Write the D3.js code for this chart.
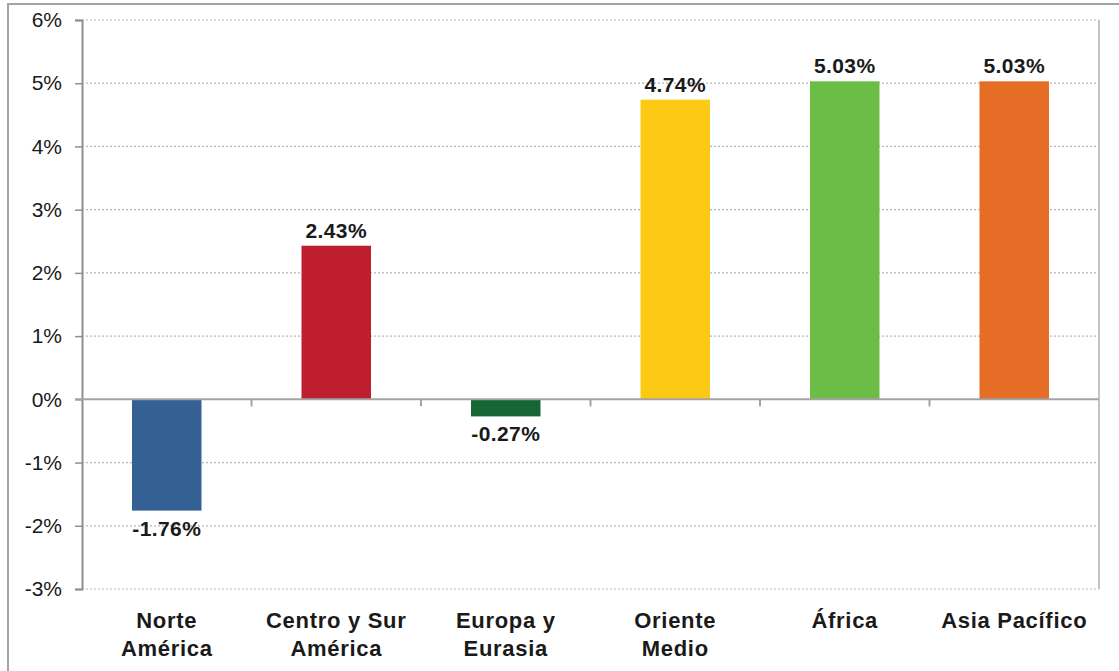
<!DOCTYPE html>
<html>
<head>
<meta charset="utf-8">
<script src="https://cdn.jsdelivr.net/npm/d3@7"></script>
<style>
    body { margin: 0; background: #ffffff; }
    svg { display: block; font-family: "Liberation Sans", Arial, sans-serif; }
</style>
</head>
<body>
<div id="chart"></div>
<script>
// Data
const regions = [["Norte", "América"], ["Centro  y Sur", "América"], ["Europa y", "Eurasia"], ["Oriente", "Medio"], ["África"], ["Asia Pacífico"]];
const growth = [-1.76, 2.43, -0.27, 4.74, 5.03, 5.03];
const barColors = ["#346093", "#be1e2d", "#166534", "#fcc915", "#6bbd45", "#e56d25"];
const yTicks = [-3, -2, -1, 0, 1, 2, 3, 4, 5, 6];

const width = 1119, height = 671;
const plot = {left: 82, right: 1099, top: 20, bottom: 589};

const svg = d3.select("#chart").append("svg")
    .attr("width", width)
    .attr("height", height);

// Outer frame (top + left edges only are visible)
svg.append("path")
    .attr("d", `M8,${height} L8,4 L${width},4`)
    .attr("fill", "none")
    .attr("stroke", "#a3a3a3")
    .attr("stroke-width", 2);

// Scales
const x = d3.scaleBand()
    .domain(d3.range(regions.length))
    .range([plot.left, plot.right])
    .paddingInner(0.59)
    .paddingOuter(0.295);

const y = d3.scaleLinear()
    .domain([-3, 6])
    .range([plot.bottom, plot.top]);

// Gridlines (dotted)
svg.append("g")
    .selectAll("line")
    .data(yTicks.filter(d => d !== 0))
    .enter().append("line")
    .attr("x1", plot.left)
    .attr("x2", plot.right)
    .attr("y1", d => y(d))
    .attr("y2", d => y(d))
    .attr("stroke", "#b5b5b5")
    .attr("stroke-width", 1.2)
    .attr("stroke-dasharray", "2,2");

// Right border
svg.append("line")
    .attr("x1", plot.right).attr("x2", plot.right)
    .attr("y1", plot.top).attr("y2", plot.bottom)
    .attr("stroke", "#c4c4c4")
    .attr("stroke-width", 2);

// Y axis
const yAxis = d3.axisLeft(y)
    .tickValues(yTicks)
    .tickSize(7)
    .tickPadding(13)
    .tickFormat(d => d + "%");

const yAxisGroup = svg.append("g")
    .attr("transform", `translate(${plot.left},0)`)
    .call(yAxis);

yAxisGroup.select(".domain")
    .attr("stroke", "#8f8f8f")
    .attr("stroke-width", 2);
yAxisGroup.selectAll(".tick line")
    .attr("stroke", "#8f8f8f")
    .attr("stroke-width", 1.5);
yAxisGroup.selectAll(".tick text")
    .style("font-family", "'Liberation Sans', Arial, sans-serif")
    .style("font-size", "21px")
    .style("fill", "#1a1a1a");

// Bars
svg.selectAll(".bar")
    .data(growth)
    .enter().append("rect")
    .attr("class", "bar")
    .attr("x", (d, i) => x(i))
    .attr("y", d => y(Math.max(0, d)))
    .attr("width", x.bandwidth())
    .attr("height", d => Math.abs(y(d) - y(0)))
    .attr("fill", (d, i) => barColors[i]);

// Zero line with category separator ticks
svg.append("line")
    .attr("x1", plot.left - 7).attr("x2", plot.right)
    .attr("y1", y(0)).attr("y2", y(0))
    .attr("stroke", "#a3a3a3")
    .attr("stroke-width", 2);

const gap = x.step() * x.paddingInner() / 2;
svg.append("g")
    .selectAll("line")
    .data(d3.range(1, regions.length))
    .enter().append("line")
    .attr("x1", i => x(i) - gap)
    .attr("x2", i => x(i) - gap)
    .attr("y1", y(0))
    .attr("y2", y(0) + 7)
    .attr("stroke", "#a3a3a3")
    .attr("stroke-width", 2);

// Value labels
svg.selectAll(".value-label")
    .data(growth)
    .enter().append("text")
    .attr("class", "value-label")
    .attr("x", (d, i) => x(i) + x.bandwidth() / 2)
    .attr("y", d => d >= 0 ? y(d) - 8 : y(d) + 25)
    .attr("text-anchor", "middle")
    .style("font-size", "21px")
    .style("font-weight", "bold")
    .style("letter-spacing", "0.4px")
    .style("fill", "#1a1a1a")
    .text(d => d.toFixed(2) + "%");

// Category labels
const catLabels = svg.selectAll(".cat-label")
    .data(regions)
    .enter().append("text")
    .attr("class", "cat-label")
    .attr("x", (d, i) => x(i) + x.bandwidth() / 2)
    .attr("y", 628)
    .attr("text-anchor", "middle")
    .style("font-size", "22px")
    .style("font-weight", "bold")
    .style("letter-spacing", "0.7px")
    .style("fill", "#1a1a1a");

catLabels.selectAll("tspan")
    .data(d => d)
    .enter().append("tspan")
    .attr("x", function() { return d3.select(this.parentNode).attr("x"); })
    .attr("dy", (d, i) => i === 0 ? 0 : 28)
    .text(d => d);
</script>
</body>
</html>
